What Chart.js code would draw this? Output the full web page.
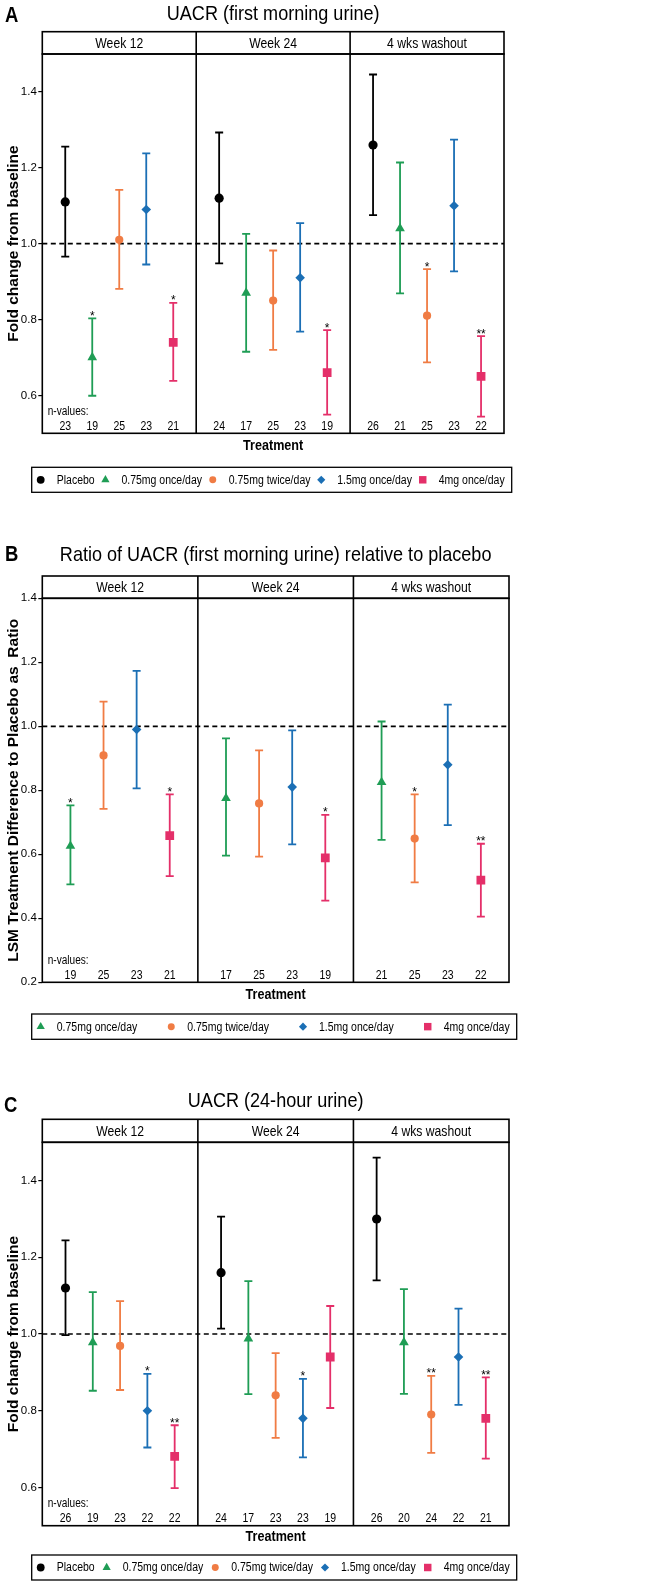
<!DOCTYPE html>
<html>
<head>
<meta charset="utf-8">
<script src="https://cdn.jsdelivr.net/npm/chart.js@4.4.1/dist/chart.umd.min.js"></script>
<style>
  body { margin: 0; background: #fff; }
  .panel { position: absolute; left: 0; width: 646px; }
</style>
</head>
<body>
<div class="panel" style="top:0px"><canvas id="chartA" width="646" height="500"></canvas></div>
<div class="panel" style="top:500px"><canvas id="chartB" width="646" height="545"></canvas></div>
<div class="panel" style="top:1045px"><canvas id="chartC" width="646" height="536"></canvas></div>
<script>
const WIDE = "'Liberation Sans', Arial, sans-serif";
const SQUEEZE = 0.84; // no narrow face installed, so condense Liberation Sans by hand

const facets = ['Week 12', 'Week 24', '4 wks washout'];
const treatments = ['Placebo', '0.75mg once/day', '0.75mg twice/day', '1.5mg once/day', '4mg once/day'];
const colors = ['#000000', '#1f9d55', '#f07c44', '#1b6fb5', '#e42f69'];
const shapes = ['circle', 'triangle', 'circle', 'rectRot', 'rect'];
const radii = [4.6, 5.6, 4.1, 4.8, 6.2];

// A: UACR first morning urine, rows = treatments, cols = facets
const aMean = [[1.11, 1.12, 1.26], [0.70, 0.87, 1.04], [1.01, 0.85, 0.81], [1.09, 0.91, 1.10], [0.74, 0.66, 0.65]];
const aLow  = [[0.966, 0.948, 1.075], [0.599, 0.715, 0.869], [0.881, 0.720, 0.687], [0.945, 0.768, 0.927], [0.638, 0.549, 0.544]];
const aHigh = [[1.256, 1.293, 1.446], [0.803, 1.026, 1.214], [1.142, 0.982, 0.933], [1.238, 1.054, 1.274], [0.844, 0.772, 0.756]];
const aStars = [['', '', ''], ['*', '', ''], ['', '', '*'], ['', '', ''], ['*', '*', '**']];
const aN = [[23, 24, 26], [19, 17, 21], [25, 25, 25], [23, 23, 23], [21, 19, 22]];
const aTicks = [0.6, 0.8, 1.0, 1.2, 1.4];

// B: ratio to placebo (no placebo row)
const bMean = [[0.626, 0.775, 0.825], [0.909, 0.759, 0.649], [0.990, 0.810, 0.880], [0.658, 0.589, 0.519]];
const bLow  = [[0.506, 0.596, 0.645], [0.742, 0.593, 0.512], [0.806, 0.631, 0.691], [0.532, 0.455, 0.405]];
const bHigh = [[0.753, 0.962, 1.015], [1.077, 0.925, 0.787], [1.173, 0.987, 1.068], [0.787, 0.723, 0.633]];
const bStars = [['*', '', ''], ['', '', '*'], ['', '', ''], ['*', '*', '**']];
const bN = [[19, 17, 21], [25, 25, 25], [23, 23, 23], [21, 19, 22]];
const bTicks = [0.2, 0.4, 0.6, 0.8, 1.0, 1.2, 1.4];

// C: UACR 24-hour urine
const cMean = [[1.12, 1.16, 1.30], [0.978, 0.988, 0.978], [0.969, 0.840, 0.790], [0.800, 0.780, 0.940], [0.681, 0.940, 0.780]];
const cLow  = [[0.997, 1.014, 1.140], [0.852, 0.843, 0.844], [0.854, 0.729, 0.690], [0.704, 0.678, 0.815], [0.598, 0.807, 0.675]];
const cHigh = [[1.244, 1.306, 1.460], [1.109, 1.138, 1.117], [1.086, 0.950, 0.891], [0.896, 0.883, 1.066], [0.762, 1.073, 0.887]];
const cStars = [['', '', ''], ['', '', ''], ['', '', '**'], ['*', '*', ''], ['**', '', '**']];
const cN = [[26, 24, 26], [19, 17, 20], [23, 23, 24], [22, 23, 22], [22, 19, 21]];
const cTicks = [0.6, 0.8, 1.0, 1.2, 1.4];

const MARGIN = 0.85; // gap at facet edges, in x units

const panels = [
  { id: 'chartA', letter: 'A', title: 'UACR (first morning urine)', yTitle: 'Fold change from baseline',
    series: [0, 1, 2, 3, 4], mean: aMean, low: aLow, high: aHigh, stars: aStars, n: aN, ticks: aTicks, yMin: 0.5, yMax: 1.5,
    lay: { h: 500, headTop: 31.7, top: 54, bottom: 433.3, right: 504, titleY: 14, letterX: 5, letterY: 16,
           legTop: 467.3, legBottom: 492.3, legRight: 511.7, treatY: 446 } },
  { id: 'chartB', letter: 'B', title: 'Ratio of UACR (first morning urine) relative to placebo',
    yTitle: 'LSM Treatment Difference to Placebo as  Ratio',
    series: [1, 2, 3, 4], mean: bMean, low: bLow, high: bHigh, stars: bStars, n: bN, ticks: bTicks, yMin: 0.2, yMax: 1.4,
    lay: { h: 545, headTop: 76, top: 98.3, bottom: 482.3, right: 509, titleY: 55, letterX: 5, letterY: 55,
           legTop: 514, legBottom: 539.3, legRight: 516.7, treatY: 495 } },
  { id: 'chartC', letter: 'C', title: 'UACR (24-hour urine)', yTitle: 'Fold change from baseline',
    series: [0, 1, 2, 3, 4], mean: cMean, low: cLow, high: cHigh, stars: cStars, n: cN, ticks: cTicks, yMin: 0.5, yMax: 1.5,
    lay: { h: 536, headTop: 74.3, top: 97.3, bottom: 480.7, right: 509, titleY: 56, letterX: 4, letterY: 61,
           legTop: 510, legBottom: 535, legRight: 516.7, treatY: 492.3 } }
];

// condensed text: squeeze horizontally around the anchor
function narrow(ctx, text, x, y, font, align, k) {
  const s = k || SQUEEZE;
  ctx.save();
  ctx.font = font;
  ctx.textAlign = align;
  ctx.textBaseline = 'middle';
  ctx.translate(x, y);
  ctx.scale(s, 1);
  ctx.fillText(text, 0, 0);
  ctx.restore();
}

function narrowWidth(ctx, text, font) {
  ctx.save();
  ctx.font = font;
  const w = ctx.measureText(text).width * SQUEEZE;
  ctx.restore();
  return w;
}

function marker(ctx, s, x, y, scale) {
  ctx.fillStyle = colors[s];
  ctx.strokeStyle = colors[s];
  Chart.helpers.drawPoint(ctx, { pointStyle: shapes[s], radius: radii[s] * scale, rotation: 0, borderWidth: 0 }, x, y);
}

const decor = {
  id: 'decor',
  beforeDatasetsDraw(chart, args, opts) {
    const { ctx, chartArea: a, scales: { x, y } } = chart;
    ctx.save();
    const y1 = y.getPixelForValue(1);
    ctx.setLineDash([5, 3.5]);
    ctx.lineWidth = 1.7;
    ctx.strokeStyle = '#000';
    ctx.beginPath(); ctx.moveTo(a.left, y1); ctx.lineTo(a.right, y1); ctx.stroke();
    ctx.setLineDash([]);
    chart.data.datasets.forEach(ds => {
      ctx.strokeStyle = ds.pointBackgroundColor;
      ctx.lineWidth = 1.8;
      ds.data.forEach(pt => {
        const px = x.getPixelForValue(pt.x);
        const top = y.getPixelForValue(pt.hi);
        const bot = y.getPixelForValue(pt.lo);
        ctx.beginPath();
        ctx.moveTo(px, top); ctx.lineTo(px, bot);
        ctx.moveTo(px - 4, top); ctx.lineTo(px + 4, top);
        ctx.moveTo(px - 4, bot); ctx.lineTo(px + 4, bot);
        ctx.stroke();
        if (pt.star) {
          ctx.fillStyle = '#000';
          ctx.font = '12px ' + WIDE;
          ctx.textAlign = 'center';
          ctx.textBaseline = 'alphabetic';
          ctx.fillText(pt.star, px, top + 1.5);
        }
      });
    });
    ctx.restore();
  },
  afterDraw(chart, args, opts) {
    const p = opts.panel, L = p.lay;
    const { ctx, chartArea: a, scales: { x } } = chart;
    const fw = (a.right - a.left) / 3;
    ctx.save();
    ctx.fillStyle = '#000';
    ctx.strokeStyle = '#000';
    // frames
    ctx.lineWidth = 1.6;
    ctx.strokeRect(a.left, L.headTop, a.right - a.left, a.top - L.headTop);
    ctx.strokeRect(a.left, a.top, a.right - a.left, a.bottom - a.top);
    ctx.beginPath();
    for (let k = 1; k < 3; k++) {
      ctx.moveTo(a.left + fw * k, L.headTop); ctx.lineTo(a.left + fw * k, a.bottom);
    }
    ctx.stroke();
    // facet headers
    facets.forEach((f, k) => narrow(ctx, f, a.left + fw * (k + 0.5), (L.headTop + a.top) / 2 + 1, '14.5px ' + WIDE, 'center'));
    // title, letter, x title
    narrow(ctx, p.title, (a.left + a.right) / 2, L.titleY, '21px ' + WIDE, 'center', 0.86);
    narrow(ctx, p.letter, L.letterX, L.letterY, 'bold 22px ' + WIDE, 'left');
    narrow(ctx, 'Treatment', (a.left + a.right) / 2, L.treatY, 'bold 15px ' + WIDE, 'center');
    // n-values
    narrow(ctx, 'n-values:', a.left + 5.4, a.bottom - 22, '12px ' + WIDE, 'left');
    chart.data.datasets.forEach(ds => {
      ds.data.forEach(pt => narrow(ctx, String(pt.n), x.getPixelForValue(pt.x), a.bottom - 7, '12.5px ' + WIDE, 'center'));
    });
    // legend
    const bl = 31.7;
    ctx.lineWidth = 1.3;
    ctx.strokeRect(bl, L.legTop, L.legRight - bl, L.legBottom - L.legTop);
    const lf = '12.5px ' + WIDE;
    const widths = p.series.map(s => 16 + narrowWidth(ctx, treatments[s], lf));
    const start = bl + 9, end = L.legRight - 7;
    const gap = (end - start - widths.reduce((u, v) => u + v, 0)) / (p.series.length - 1);
    const ly = (L.legTop + L.legBottom) / 2;
    let cx = start;
    p.series.forEach((s, i) => {
      marker(ctx, s, cx, ly, 0.85);
      ctx.fillStyle = '#000';
      narrow(ctx, treatments[s], cx + 16, ly + 0.5, lf, 'left');
      cx += widths[i] + gap;
    });
    ctx.restore();
  }
};

panels.forEach(p => {
  const L = p.lay;
  const ns = p.series.length;
  const facetW = ns - 1 + 2 * MARGIN;
  const datasets = p.series.map((s, r) => ({
    label: treatments[s],
    pointStyle: shapes[s],
    pointRadius: radii[s],
    pointBackgroundColor: colors[s],
    pointBorderWidth: 0,
    showLine: false,
    data: facets.map((f, k) => ({
      x: k * facetW + MARGIN + r,
      y: p.mean[r][k], lo: p.low[r][k], hi: p.high[r][k], star: p.stars[r][k], n: p.n[r][k]
    }))
  }));
  new Chart(document.getElementById(p.id), {
    type: 'scatter',
    data: { datasets },
    options: {
      responsive: false,
      animation: false,
      events: [],
      layout: { padding: { top: L.top, left: 0, right: 646 - L.right, bottom: L.h - L.bottom - 26 } },
      plugins: {
        legend: { display: false },
        tooltip: { enabled: false },
        decor: { panel: p }
      },
      scales: {
        x: {
          type: 'linear', min: 0, max: 3 * facetW,
          afterFit: sc => { sc.height = 26; },
          ticks: { display: false },
          grid: { display: false },
          border: { display: false },
          title: { display: false }
        },
        y: {
          min: p.yMin, max: p.yMax,
          afterFit: sc => { sc.width = 42.3; },
          afterBuildTicks: sc => { sc.ticks = p.ticks.map(v => ({ value: v })); },
          grid: { drawOnChartArea: false, drawTicks: true, tickLength: 4, color: '#000', lineWidth: 1.2 },
          border: { display: false },
          ticks: { color: '#000', padding: 1.5, font: { family: WIDE, size: 11.5 }, callback: v => v.toFixed(1) },
          title: { display: true, text: p.yTitle, color: '#000',
                   font: { family: WIDE, size: 15.5, weight: 'bold' }, padding: { top: 4.7, bottom: 0 } }
        }
      }
    },
    plugins: [decor]
  });
});
</script>
</body>
</html>
